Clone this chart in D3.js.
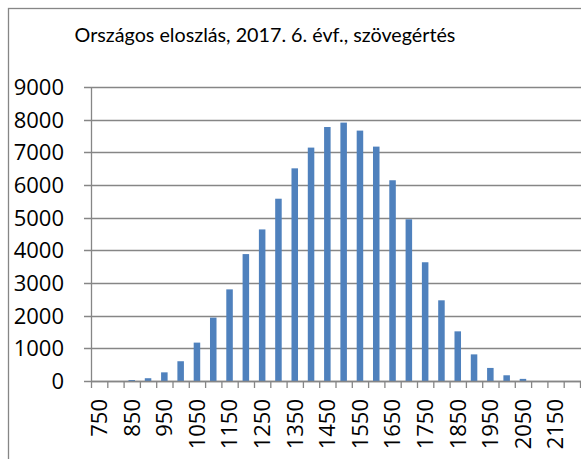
<!DOCTYPE html>
<html lang="hu">
<head>
<meta charset="UTF-8">
<title>Országos eloszlás</title>
<script src="https://cdn.jsdelivr.net/npm/d3@7"></script>
<style>
  body { margin: 0; background: #fff; }
</style>
</head>
<body>
<div id="container"></div>
<script>
    const width = 581;
    const height = 459;
    const margin = { top: 87, left: 91, right: 0, bottom: 78 };

    const title = 'Országos eloszlás, 2017. 6. évf., szövegértés';

    // score bands (every 50 points)
    const categories = [750, 800, 850, 900, 950, 1000, 1050, 1100, 1150, 1200,
        1250, 1300, 1350, 1400, 1450, 1500, 1550, 1600, 1650, 1700,
        1750, 1800, 1850, 1900, 1950, 2000, 2050, 2100, 2150, 2200];
    // number of students per band
    const counts = [0, 0, 30, 85, 265, 605, 1175, 1940, 2805, 3885,
        4640, 5580, 6510, 7145, 7775, 7910, 7665, 7175, 6145, 4950,
        3635, 2470, 1520, 815, 400, 175, 65, 0, 0, 0];
    const yTicks = [0, 1000, 2000, 3000, 4000, 5000, 6000, 7000, 8000, 9000];
    const xLabels = [750, 850, 950, 1050, 1150, 1250, 1350, 1450, 1550, 1650, 1750, 1850, 1950, 2050, 2150];

    const data = categories.map((c, i) => ({ cat: c, value: counts[i] }));

    const font = '"Open Sans", "Liberation Sans", sans-serif';
    const titleFont = 'Lato, "Open Sans", sans-serif';
    const gridColor = '#868686';

    const svg = d3.select('#container').append('svg')
        .attr('width', width)
        .attr('height', height)
        .style('display', 'block');

    // chart border (runs off the right/bottom edge like the original)
    svg.append('rect')
        .attr('x', 8.5).attr('y', 8.5)
        .attr('width', 640).attr('height', 520)
        .attr('fill', '#fff')
        .attr('stroke', gridColor)
        .attr('stroke-width', 1.3);

    const x = d3.scaleBand()
        .domain(categories)
        .range([margin.left, margin.left + 16.3 * categories.length])
        .paddingInner(0.6)
        .paddingOuter(0.3);

    const y = d3.scaleLinear()
        .domain([0, 9000])
        .range([height - margin.bottom, margin.top]);

    // title, sized to match the original width
    const t = svg.append('text')
        .attr('x', 265)
        .attr('y', 42)
        .attr('text-anchor', 'middle')
        .attr('font-family', titleFont)
        .attr('font-size', 18)
        .attr('fill', '#000')
        .text(title);
    const tw = t.node().getComputedTextLength();
    t.attr('font-size', 18 * 381 / tw);

    // horizontal gridlines
    svg.append('g')
        .selectAll('line')
        .data(yTicks)
        .join('line')
        .attr('x1', margin.left - 7)
        .attr('x2', width)
        .attr('y1', d => Math.round(y(d)) + 0.5)
        .attr('y2', d => Math.round(y(d)) + 0.5)
        .attr('stroke', gridColor)
        .attr('stroke-width', 1.3);

    // y axis labels
    svg.append('g')
        .attr('font-family', font)
        .attr('font-size', 22)
        .attr('text-anchor', 'end')
        .selectAll('text')
        .data(yTicks)
        .join('text')
        .attr('x', 64)
        .attr('y', d => y(d))
        .attr('dy', '0.36em')
        .text(d => d);

    // y axis line
    svg.append('line')
        .attr('x1', margin.left + 0.5).attr('x2', margin.left + 0.5)
        .attr('y1', y(9000)).attr('y2', y(0))
        .attr('stroke', gridColor)
        .attr('stroke-width', 1.3);

    // bars
    svg.append('g')
        .selectAll('rect')
        .data(data)
        .join('rect')
        .attr('x', d => x(d.cat))
        .attr('width', x.bandwidth())
        .attr('y', d => y(d.value))
        .attr('height', d => y(0) - y(d.value))
        .attr('fill', '#4f81bd');

    // x axis line and tick marks at band boundaries
    const boundaries = categories.map(c => x(c) - x.bandwidth() * 0.75).concat([x(categories[categories.length - 1]) + x.bandwidth() * 1.75]);
    svg.append('line')
        .attr('x1', margin.left).attr('x2', width)
        .attr('y1', Math.round(y(0)) + 0.5).attr('y2', Math.round(y(0)) + 0.5)
        .attr('stroke', gridColor)
        .attr('stroke-width', 1.3);
    svg.append('g')
        .selectAll('line')
        .data(boundaries)
        .join('line')
        .attr('x1', d => d + 0.5).attr('x2', d => d + 0.5)
        .attr('y1', y(0)).attr('y2', y(0) + 7)
        .attr('stroke', gridColor)
        .attr('stroke-width', 1.3);

    // x axis labels, rotated
    svg.append('g')
        .attr('font-family', font)
        .attr('font-size', 22)
        .attr('text-anchor', 'end')
        .selectAll('text')
        .data(xLabels)
        .join('text')
        .attr('transform', d => `translate(${x(d) + x.bandwidth() / 2},399) rotate(-90)`)
        .attr('dy', '0.36em')
        .text(d => d);
</script>
</body>
</html>
